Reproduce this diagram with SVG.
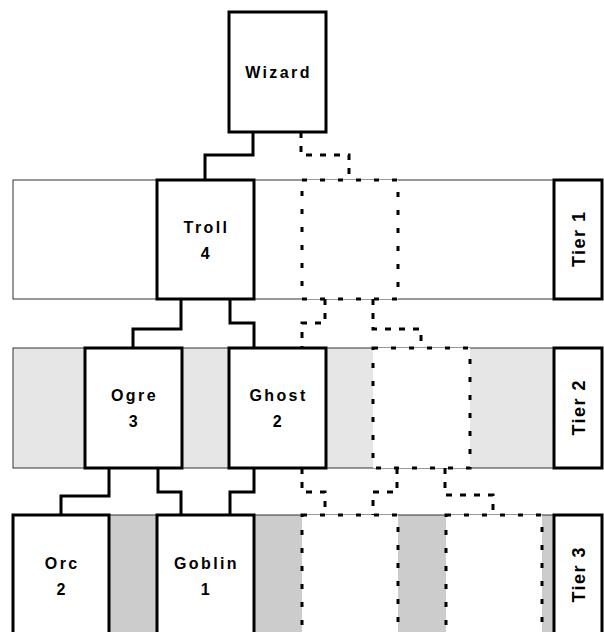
<svg xmlns="http://www.w3.org/2000/svg" width="604" height="632" viewBox="0 0 604 632">
<style>
.band{stroke:#333;stroke-width:1}
.box{fill:#fff;stroke:#000;stroke-width:3}
.ghost{fill:#fff;stroke:#000;stroke-width:3;stroke-dasharray:5 13}
.wire{fill:none;stroke:#000;stroke-width:3}
.dash{fill:none;stroke:#000;stroke-width:3;stroke-dasharray:6 8}
text{font-family:"Liberation Sans",Arial,sans-serif;font-weight:bold;font-size:16px;letter-spacing:2.4px;text-anchor:middle;fill:#000}
text.tier{font-size:18px;letter-spacing:1.5px}
</style>
<rect width="604" height="632" fill="#fff"/>
<g id="bands">
<rect class="band" x="13" y="180" width="541" height="119" fill="#fff"/>
<rect class="band" x="13" y="348" width="541" height="120" fill="#e6e6e6"/>
<rect class="band" x="13" y="515" width="541" height="130" fill="#cccccc"/>
</g>
<g id="connectors">
<path class="wire" d="M253 132V155H205V180"/>
<path class="wire" d="M181 299V329H133V348"/>
<path class="wire" d="M230 299V323H254V348"/>
<path class="wire" d="M109 468V496H61V515"/>
<path class="wire" d="M158 468V492H181V515"/>
<path class="wire" d="M254 468V492H230V515"/>
<path class="dash" d="M301 132V155H349V180"/>
<path class="dash" d="M325 299V323H302V348"/>
<path class="dash" d="M373 299V329H421V348"/>
<path class="dash" d="M302 468V492H325V515"/>
<path class="dash" d="M397 468V492H373V515"/>
<path class="dash" d="M445 468V495H493V515"/>
</g>
<g id="wizard"><rect class="box" x="229" y="12" width="97" height="120"/><text x="278.5" y="78">Wizard</text></g>
<g id="troll"><rect class="box" x="157" y="180" width="97" height="119"/><text x="206.5" y="233">Troll</text><text x="206.5" y="259">4</text></g>
<g id="tier1-empty"><rect class="ghost" x="302" y="180" width="96" height="119"/></g>
<g id="tier1-label"><rect class="box" x="554" y="180" width="48" height="119"/><text class="tier" transform="translate(578,239.5) rotate(-90)" x="0.75" y="6.5">Tier 1</text></g>
<g id="ogre"><rect class="box" x="85" y="348" width="97" height="120"/><text x="134.5" y="401">Ogre</text><text x="134.5" y="427">3</text></g>
<g id="ghost"><rect class="box" x="229" y="348" width="97" height="120"/><text x="278.5" y="401">Ghost</text><text x="278.5" y="427">2</text></g>
<g id="tier2-empty"><rect class="ghost" x="373" y="348" width="97" height="120"/></g>
<g id="tier2-label"><rect class="box" x="554" y="348" width="48" height="120"/><text class="tier" transform="translate(578,408) rotate(-90)" x="0.75" y="6.5">Tier 2</text></g>
<g id="orc"><rect class="box" x="13" y="515" width="96" height="130"/><text x="62.2" y="569">Orc</text><text x="62.2" y="595">2</text></g>
<g id="goblin"><rect class="box" x="157" y="515" width="97" height="130"/><text x="206.5" y="569">Goblin</text><text x="206.5" y="595">1</text></g>
<g id="tier3-empty-a"><rect class="ghost" x="302" y="515" width="96" height="130"/></g>
<g id="tier3-empty-b"><rect class="ghost" x="446" y="515" width="96" height="130"/></g>
<g id="tier3-label"><rect class="box" x="554" y="515" width="48" height="130"/><text class="tier" transform="translate(578,575) rotate(-90)" x="0.75" y="6.5">Tier 3</text></g>
</svg>
